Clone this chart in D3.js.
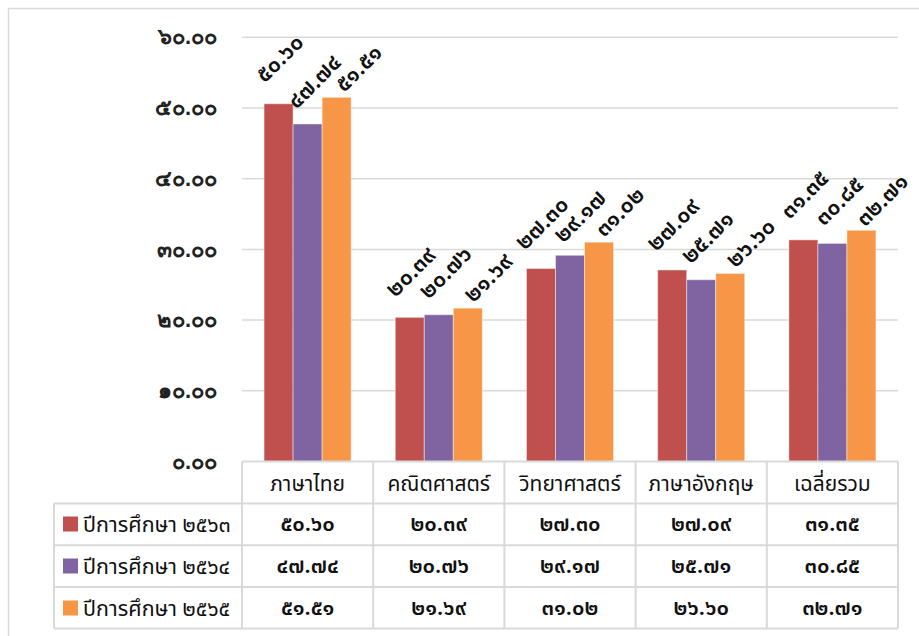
<!DOCTYPE html>
<html>
<head>
<meta charset="utf-8">
<script src="https://cdn.jsdelivr.net/npm/d3@7"></script>
<style>
  html, body { margin: 0; padding: 0; background: #fff; }
  svg { display: block; font-family: "Noto Sans Thai", "Noto Sans Thai UI", "Noto Sans", sans-serif; }
</style>
</head>
<body>
<svg id="chart" width="919" height="636"></svg>
<script>
const categories = ["ภาษาไทย", "คณิตศาสตร์", "วิทยาศาสตร์", "ภาษาอังกฤษ", "เฉลี่ยรวม"];
const seriesNames = ["ปีการศึกษา ๒๕๖๓", "ปีการศึกษา ๒๕๖๔", "ปีการศึกษา ๒๕๖๕"];
const values2563 = [50.60, 20.39, 27.30, 27.09, 31.35];
const values2564 = [47.74, 20.76, 29.17, 25.71, 30.85];
const values2565 = [51.51, 21.69, 31.02, 26.60, 32.71];
const yTicks = [0, 10, 20, 30, 40, 50, 60];
const colors = ["#C0504D", "#8064A2", "#F79646"];

const seriesValues = [values2563, values2564, values2565];
const thaiDigits = "๐๑๒๓๔๕๖๗๘๙";
const toThai = s => String(s).replace(/[0-9]/g, d => thaiDigits[+d]);
const fmt = v => toThai(v.toFixed(2));

const svg = d3.select("#chart");
const plotLeft = 242, plotRight = 898, plotTop = 37.3, plotBottom = 461.5;

// outer frame
svg.append("path").attr("d", "M8.5,636 V8.5 H919").attr("fill", "none").attr("stroke", "#d9d9d9").attr("stroke-width", 1.5);

const y = d3.scaleLinear().domain([0, 60]).range([plotBottom, plotTop]);
const x0 = d3.scaleBand().domain(categories).range([plotLeft, plotRight]).padding(0);
const x1 = d3.scaleBand().domain(d3.range(seriesNames.length)).range([0, x0.bandwidth()]).paddingInner(0).paddingOuter(0.76);

// gridlines
const grid = svg.append("g");
grid.selectAll("line").data(yTicks.filter(t => t > 0)).join("line")
  .attr("x1", plotLeft).attr("x2", plotRight)
  .attr("y1", d => y(d)).attr("y2", d => y(d))
  .attr("stroke", "#d9d9d9").attr("stroke-width", 1.5);

// y axis labels
const yAxis = d3.axisLeft(y).tickValues(yTicks).tickSize(0).tickPadding(0).tickFormat(fmt);
const yg = svg.append("g").attr("transform", `translate(217,0)`).call(yAxis);
yg.select(".domain").remove();
yg.selectAll("text").attr("font-size", 22).attr("font-weight", 600).attr("fill", "#222").attr("dy", "0.3em");

// bars
const groups = svg.append("g").selectAll("g").data(categories).join("g")
  .attr("transform", c => `translate(${x0(c)},0)`);
groups.selectAll("rect").data((c, ci) => seriesValues.map((vals, si) => ({si, v: vals[ci]}))).join("rect")
  .attr("x", d => x1(d.si)).attr("width", x1.bandwidth())
  .attr("y", d => y(d.v)).attr("height", d => y(0) - y(d.v))
  .attr("fill", d => colors[d.si])
  .attr("stroke", "rgba(255,255,255,0.45)").attr("stroke-width", 1);

// value labels rotated, with simple overlap avoidance between neighbours
const labelDx = [1.5, 7, 21], labelDy = [-45, -42, -30];
const minSep = 22;
const labelData = [];
categories.forEach((c, ci) => {
  let prev = null;
  seriesValues.forEach((vals, si) => {
    let px = x0(c) + x1(si) + x1.bandwidth() / 2 + labelDx[si];
    let py = y(vals[ci]) + labelDy[si];
    if (prev) {
      const sep = ((px - prev.x) + (py - prev.y)) / Math.SQRT2;
      if (sep < minSep) {
        const push = (minSep - sep) / Math.SQRT2;
        px += push; py += push;
      }
    }
    prev = {x: px, y: py};
    labelData.push({x: px, y: py, v: vals[ci]});
  });
});
svg.append("g").selectAll("text").data(labelData).join("text")
  .attr("transform", d => `translate(${d.x},${d.y}) rotate(-45)`)
  .attr("text-anchor", "middle").attr("dy", "0.3em")
  .attr("font-size", 23).attr("font-weight", 600).attr("fill", "#111")
  .text(d => fmt(d.v));

// data table
const tableTop = 461.5, rowH = 42, legendLeft = 54;
const tbl = svg.append("g");
const lineColor = "#d9d9d9";
tbl.append("line").attr("x1", plotLeft).attr("x2", plotRight).attr("y1", tableTop).attr("y2", tableTop).attr("stroke", lineColor).attr("stroke-width", 2);
for (let r = 1; r <= 4; r++) {
  const yy = tableTop + r * rowH - (r - 1) * 0.3;
  tbl.append("line").attr("x1", legendLeft).attr("x2", plotRight).attr("y1", yy).attr("y2", yy).attr("stroke", lineColor).attr("stroke-width", 2);
}
const tableBottom = tableTop + 4 * rowH - 0.9;
tbl.append("line").attr("x1", legendLeft).attr("x2", legendLeft).attr("y1", tableTop + rowH).attr("y2", tableBottom).attr("stroke", lineColor).attr("stroke-width", 2);
const vx = categories.map(c => x0(c)).concat([plotRight]);
tbl.selectAll("line.v").data(vx).join("line").attr("class", "v")
  .attr("x1", d => d).attr("x2", d => d).attr("y1", tableTop).attr("y2", tableBottom)
  .attr("stroke", lineColor).attr("stroke-width", 2);

// header text
tbl.selectAll("text.hdr").data(categories).join("text").attr("class", "hdr")
  .attr("x", c => x0(c) + x0.bandwidth() / 2).attr("y", tableTop + rowH / 2 + 1)
  .attr("text-anchor", "middle").attr("dy", "0.35em")
  .attr("font-size", 21).attr("fill", "#111").text(c => c);

// rows
seriesNames.forEach((name, si) => {
  const cy = tableTop + (si + 1) * rowH + rowH / 2;
  tbl.append("rect").attr("x", 63).attr("y", cy - 8).attr("width", 15).attr("height", 15).attr("fill", colors[si]);
  tbl.append("text").attr("x", 83).attr("y", cy).attr("dy", "0.35em").attr("font-size", 21.5).attr("fill", "#111").text(name);
  tbl.selectAll(`text.r${si}`).data(categories).join("text").attr("class", `r${si}`)
    .attr("x", c => x0(c) + x0.bandwidth() / 2).attr("y", cy).attr("dy", "0.3em")
    .attr("text-anchor", "middle").attr("font-size", 22).attr("font-weight", 600).attr("fill", "#111")
    .text((c, ci) => fmt(seriesValues[si][ci]));
});
</script>
</body>
</html>
